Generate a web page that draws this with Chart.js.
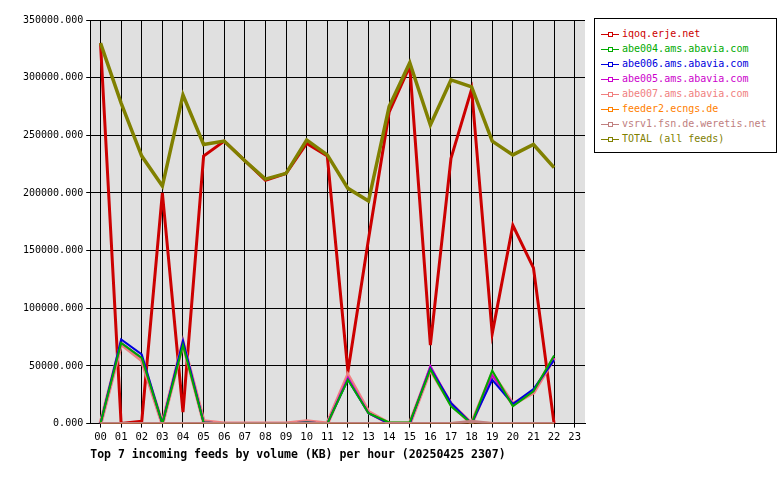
<!DOCTYPE html><html><head><script src="https://cdn.jsdelivr.net/npm/chart.js@4"></script>
<style>body{margin:0;background:#fff}#w{position:relative;width:780px;height:480px}
#lg{position:absolute;left:594px;top:18px;width:183px;height:135px;border:1px solid #000;box-sizing:border-box;font:10px "DejaVu Sans Mono";padding:7px 0 0 6px;background:#fff}
#lg div{height:15px;line-height:15px;white-space:nowrap}#lg span.m{display:inline-block;width:18px;height:1px;vertical-align:middle;margin-right:3px;position:relative}
#lg span.m i{position:absolute;left:7px;top:-2px;width:3px;height:3px;border:1px solid;box-sizing:content-box}
</style></head><body><div id="w"><canvas id="c" width="780" height="480"></canvas><div id="lg"></div></div>
<script>
const hours=["00","01","02","03","04","05","06","07","08","09","10","11","12","13","14","15","16","17","18","19","20","21","22","23"];
const names=["iqoq.erje.net","abe004.ams.abavia.com","abe006.ams.abavia.com","abe005.ams.abavia.com","abe007.ams.abavia.com","feeder2.ecngs.de","vsrv1.fsn.de.weretis.net","TOTAL (all feeds)"];
const colors=["#cc0000","#00aa00","#0000dd","#cc00cc","#f08080","#ff8000","#c08080","#808000"];
const iqoq=[330000,0,2000,200000,10000,232000,245000,228000,211000,217000,243000,232000,45000,160000,270000,310000,68000,230000,290000,78000,172000,135000,0];
const abe004=[0,70000,57000,0,68000,1000,0,0,0,0,1000,0,38000,9000,1000,1000,47000,15000,0,46000,15000,28000,59000];
const abe006=[0,73000,60000,0,72000,1000,0,0,0,0,1000,0,38000,9000,0,0,48000,18000,0,38000,17000,30000,55000];
const abe005=[0,70000,57000,0,70000,1000,0,0,0,0,1000,0,40000,9000,0,0,50000,17000,0,42000,17000,28000,57000];
const abe007=[0,69000,55000,0,70000,2000,0,0,0,0,2000,0,42000,10000,0,0,47000,17000,0,43000,17000,27000,57000];
const feeder2=[500,500,500,500,500,500,500,500,500,500,500,500,500,500,500,500,500,500,1000,500,500,500,500];
const vsrv1=[0,0,0,0,0,0,0,0,0,0,0,0,0,0,0,0,0,0,2000,0,0,0,0];
const total=[330000,278000,232000,206000,285000,242000,245000,228000,212000,217000,246000,233000,204000,193000,275000,313000,259000,298000,292000,245000,233000,242000,222000];
const series=[iqoq,abe004,abe006,abe005,abe007,feeder2,vsrv1,total];
const widths=[3,2,2,2,4,2,3,3.5];
const order=[7,6,5,1,2,3,4,0];
const F='"DejaVu Sans Mono"';
const bg={id:'bg',beforeDraw(c){const a=c.chartArea,x=c.ctx;x.save();x.fillStyle='#e0e0e0';x.fillRect(a.left,a.top,a.right-a.left,a.bottom-a.top);x.restore();}};
new Chart(document.getElementById('c'),{type:'line',
data:{labels:hours,datasets:order.map(i=>({label:names[i],data:series[i],borderColor:colors[i],backgroundColor:colors[i],borderWidth:widths[i],pointRadius:0,tension:0}))},
options:{responsive:false,animation:false,layout:{padding:{left:20,right:195,top:20,bottom:14}},
plugins:{legend:{display:false},tooltip:{enabled:false}},
scales:{x:{offset:true,grid:{color:'#000',offset:false,drawTicks:true,tickLength:4},border:{color:'#000'},ticks:{color:'#000',font:{family:F,size:10.5},maxRotation:0,autoSkip:false},
title:{display:true,text:'Top 7 incoming feeds by volume (KB) per hour (20250425 2307)',align:'start',color:'#000',font:{family:F,size:11.5,weight:'bold'},padding:{top:2}}},
y:{min:0,max:350000,grid:{color:'#000',tickLength:4},border:{color:'#000'},ticks:{stepSize:50000,color:'#000',font:{family:F,size:10},callback:v=>v.toFixed(3)}}}},
plugins:[bg]});
const lg=document.getElementById('lg');
names.forEach((n,i)=>{lg.innerHTML+=`<div style="color:${colors[i]}"><span class="m" style="background:${colors[i]}"><i style="border-color:${colors[i]};background:#fff"></i></span>${n}</div>`;});
</script></body></html>
